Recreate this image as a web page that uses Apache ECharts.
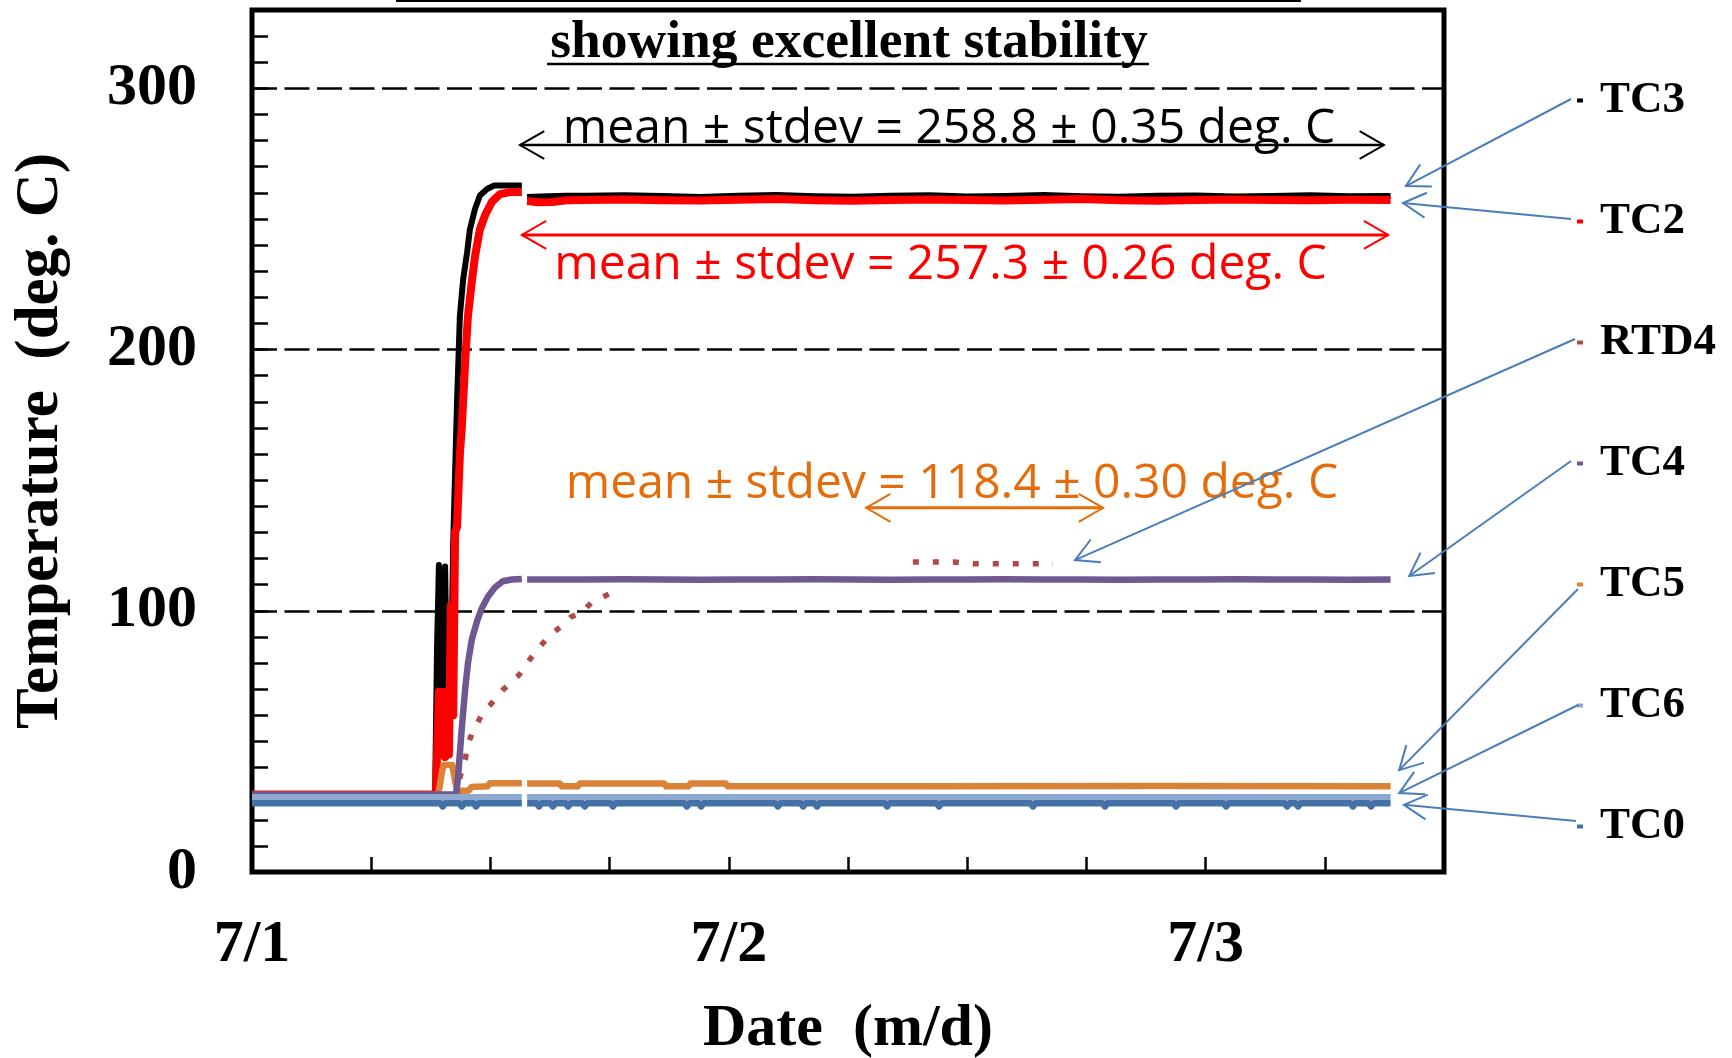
<!DOCTYPE html>
<html>
<head>
<meta charset="utf-8">
<script src="https://cdn.jsdelivr.net/npm/echarts@6/dist/echarts.min.js"></script>
<style>
  html, body { margin: 0; padding: 0; background: #ffffff; }
  #chart { width: 1732px; height: 1058px; }
</style>
</head>
<body>
<div id="chart"></div>
<script>
// ---- data (x in days after 7/1 00:00, y in deg. C) ----
const dateLabels = ['7/1', '7/2', '7/3'];
const seriesNames = ['TC3', 'TC2', 'RTD4', 'TC4', 'TC5', 'TC6', 'TC0'];

const steadyDays = [0.70, 0.78, 0.86, 0.94, 1.02, 1.10, 1.18, 1.26, 1.34, 1.42, 1.50,
                    1.58, 1.66, 1.74, 1.82, 1.90, 1.98, 2.06, 2.14, 2.22, 2.30, 2.388];

const tc3Rise = [[0, 29.7], [0.384, 29.7], [0.388, 85], [0.392, 117.5], [0.396, 117], [0.401, 45],
                 [0.405, 117], [0.409, 69], [0.413, 95], [0.417, 68], [0.422, 126], [0.430, 180],
                 [0.436, 213], [0.443, 227], [0.451, 237], [0.457, 246], [0.468, 254], [0.478, 259],
                 [0.493, 261.5], [0.508, 262.8], [0.566, 262.8], [0.571, null], [0.577, 258.4],
                 [0.620, 258.7], [0.660, 258.9]];
const tc3Steady = [258.9, 259.1, 258.8, 258.4, 258.9, 259.2, 258.7, 258.5, 258.9, 259.1, 258.6,
                   258.8, 259.2, 258.7, 258.5, 258.9, 259.0, 258.6, 258.8, 259.1, 258.7, 258.8];

const tc2Rise = [[0, 29.7], [0.384, 29.7], [0.386, 31], [0.388, 44], [0.392, 69], [0.396, 45],
                 [0.401, 69], [0.405, 44], [0.409, 69], [0.413, 45], [0.417, 102], [0.422, 60],
                 [0.426, 130], [0.430, 132], [0.436, 160], [0.440, 170], [0.447, 195], [0.453, 213],
                 [0.461, 226], [0.468, 236], [0.478, 246], [0.489, 251.5], [0.503, 256.5],
                 [0.520, 259.5], [0.541, 260.3], [0.566, 260.3], [0.571, null], [0.577, 256.9],
                 [0.600, 256.4], [0.630, 256.5], [0.660, 257.2]];
const tc2Steady = [257.3, 257.5, 257.2, 257.1, 257.4, 257.6, 257.2, 257.0, 257.3, 257.5, 257.3,
                   257.1, 257.4, 257.6, 257.2, 257.0, 257.3, 257.5, 257.3, 257.2, 257.4, 257.3];

const rtd4Points = [[0, 29.7], [0.428, 29.7], [0.436, 36], [0.443, 41], [0.447, 43], [0.453, 48.6],
                    [0.461, 53], [0.472, 56.7], [0.484, 60.9], [0.503, 64.7], [0.526, 69.7],
                    [0.545, 73], [0.560, 75.4], [0.589, 83], [0.623, 90.4], [0.650, 94.2],
                    [0.669, 97.6], [0.692, 99.5], [0.711, 103], [0.736, 105.3], [0.753, 106.8],
                    [0.760, null], [1.386, 118.7], [1.471, 118.7], [1.514, 118.0], [1.680, 118.0]];

const tc4Rise = [[0, 29.7], [0.428, 29.7], [0.432, 36], [0.440, 55], [0.447, 70], [0.453, 80],
                 [0.461, 89], [0.472, 96], [0.482, 101], [0.495, 105.5], [0.510, 109],
                 [0.526, 111.3], [0.545, 112.0], [0.566, 112.2], [0.571, null], [0.577, 112.0]];
const tc4Steady = [112.0, 112.1, 112.0, 111.9, 112.0, 112.0, 112.1, 112.0, 111.9, 112.0, 112.0,
                   112.1, 112.0, 112.0, 111.9, 112.0, 112.0, 112.1, 112.0, 112.0, 111.9, 112.0];

const tc5Points = [[0, 29.6], [0.390, 29.6], [0.394, 33], [0.398, 38], [0.402, 41], [0.420, 41],
                   [0.426, 35], [0.430, 31], [0.455, 31.2], [0.460, 32.5], [0.494, 32.8],
                   [0.499, 34.0], [0.566, 34.0], [0.571, null], [0.577, 33.9], [0.645, 33.9],
                   [0.650, 32.8], [0.683, 32.8], [0.688, 33.9], [0.864, 33.9], [0.869, 32.8],
                   [0.915, 32.8], [0.920, 33.9], [0.993, 33.9], [0.998, 32.8], [1.400, 32.8],
                   [1.900, 32.9], [2.388, 32.8]];

const tc6Points = [[0, 28.6], [0.300, 28.6], [0.566, 28.6], [0.571, null], [0.577, 28.6],
                   [1.200, 28.6], [1.800, 28.6], [2.388, 28.6]];

const tc0Points = [[0, 26.3], [0.395, 26.3], [0.400, 25.1], [0.405, 26.3], [0.435, 26.3],
                   [0.440, 25.1], [0.445, 26.3], [0.465, 26.3], [0.470, 25.1], [0.475, 26.3],
                   [0.566, 26.3], [0.571, null], [0.577, 26.3], [0.597, 26.3], [0.602, 25.1],
                   [0.607, 26.3], [0.626, 26.3], [0.631, 25.1], [0.636, 26.3], [0.658, 26.3],
                   [0.663, 25.1], [0.668, 26.3], [0.693, 26.3], [0.698, 25.1], [0.703, 26.3],
                   [0.752, 26.3], [0.757, 25.1], [0.762, 26.3], [0.907, 26.3], [0.912, 25.1],
                   [0.917, 26.3], [0.937, 26.3], [0.942, 25.1], [0.947, 26.3], [1.098, 26.3],
                   [1.103, 25.1], [1.108, 26.3], [1.151, 26.3], [1.156, 25.1], [1.161, 26.3],
                   [1.180, 26.3], [1.185, 25.1], [1.190, 26.3], [1.327, 26.3], [1.332, 25.1],
                   [1.337, 26.3], [1.436, 26.3], [1.441, 25.1], [1.446, 26.3], [1.633, 26.3],
                   [1.638, 25.1], [1.643, 26.3], [1.784, 26.3], [1.789, 25.1], [1.794, 26.3],
                   [1.933, 26.3], [1.938, 25.1], [1.943, 26.3], [2.038, 26.3], [2.043, 25.1],
                   [2.048, 26.3], [2.166, 26.3], [2.171, 25.1], [2.176, 26.3], [2.189, 26.3],
                   [2.194, 25.1], [2.199, 26.3], [2.304, 26.3], [2.309, 25.1], [2.314, 26.3],
                   [2.342, 26.3], [2.347, 25.1], [2.352, 26.3], [2.388, 26.3]];

// summary statistics printed on the chart
const stats = {
  tc3: { mean: 258.8, sd: '0.35' },
  tc2: { mean: 257.3, sd: '0.26' },
  rtd4: { mean: 118.4, sd: '0.30' }
};

// ---- styling ----
const colors = {
  TC3: '#000000', TC2: '#ff0000', RTD4: '#b04a46', TC4: '#6f5890',
  TC5: '#da8238', TC6: '#8ea9cf', TC0: '#4471a8',
  callout: '#4a7ebb', orangeText: '#e46c0a'
};
const serif = '"Liberation Serif", "Times New Roman", serif';
const sans = '"Open Sans", "Noto Sans", sans-serif';

function withSteady(rise, steady) {
  return rise.concat(steadyDays.map((d, i) => [d, steady[i]]));
}

function lineSeries(name, data, width, extra) {
  return Object.assign({
    name: name,
    type: 'line',
    data: data,
    showSymbol: false,
    symbol: 'none',
    connectNulls: false,
    silent: true,
    color: colors[name],
    itemStyle: { color: colors[name] },
    lineStyle: { color: colors[name], width: width, cap: 'butt', join: 'round' },
    z: 3
  }, extra || {});
}

const chart = echarts.init(document.getElementById('chart'), null, { renderer: 'canvas' });

chart.setOption({
  animation: false,
  backgroundColor: '#ffffff',
  grid: {
    left: 252, right: 288, top: 10, bottom: 186,
    show: true, borderColor: '#000000', borderWidth: 5,
    outerBoundsMode: 'none'
  },
  legend: {
    orient: 'vertical',
    left: 1572, top: 73,
    itemWidth: 6, itemHeight: 4, itemGap: 76,
    icon: 'rect',
    selectedMode: false,
    itemStyle: { borderWidth: 0 },
    textStyle: { fontFamily: serif, fontWeight: 'bold', fontSize: 45, color: '#000000',
                 padding: [0, 0, 0, 12] },
    data: seriesNames
  },
  xAxis: {
    type: 'value', min: 0, max: 2.5, interval: 0.25,
    name: 'Date  (m/d)', nameLocation: 'middle', nameGap: 127,
    nameTextStyle: { fontFamily: serif, fontWeight: 'bold', fontSize: 60, color: '#000000' },
    axisLine: { show: false },
    axisTick: { show: true, inside: true, length: 15, lineStyle: { color: '#000000', width: 2.5 } },
    axisLabel: {
      margin: 43, fontFamily: serif, fontWeight: 'bold', fontSize: 60, color: '#000000',
      formatter: v => (Math.abs(v - Math.round(v)) < 1e-9 ? dateLabels[Math.round(v)] || '' : '')
    },
    splitLine: { show: false }
  },
  yAxis: [{
    type: 'value', min: 0, max: 330, interval: 10,
    name: 'Temperature  (deg. C)', nameLocation: 'middle', nameGap: 180,
    nameTextStyle: { fontFamily: serif, fontWeight: 'bold', fontSize: 61, color: '#000000' },
    axisLine: { show: false },
    axisTick: { show: true, inside: true, length: 16, lineStyle: { color: '#000000', width: 2.5 } },
    axisLabel: {
      margin: 55, fontFamily: serif, fontWeight: 'bold', fontSize: 60, color: '#000000',
      formatter: v => (v % 100 === 0 ? String(v) : '')
    },
    splitLine: { show: false }
  }, {
    type: 'value', min: 0, max: 330, interval: 100, position: 'right',
    axisLine: { show: false }, axisTick: { show: false }, axisLabel: { show: false },
    splitLine: { show: true, lineStyle: { color: '#000000', width: 2.5, type: [25, 7.5] } }
  }],
  series: [
    lineSeries('TC3', withSteady(tc3Rise, tc3Steady), 6),
    lineSeries('TC2', withSteady(tc2Rise, tc2Steady), 8),
    lineSeries('TC5', tc5Points, 6.5),
    lineSeries('RTD4', rtd4Points, 5, {
      lineStyle: { color: colors.RTD4, width: 5.5, type: [6, 14], cap: 'butt' }
    }),
    lineSeries('TC4', withSteady(tc4Rise, tc4Steady), 6.5),
    lineSeries('TC6', tc6Points, 6.5),
    lineSeries('TC0', tc0Points, 6.5)
  ]
});

// ---- annotations ----
function toPx(d, t) {
  return chart.convertToPixel({ xAxisIndex: 0, yAxisIndex: 0 }, [d, t]);
}
function arrowHead(tip, from, len, ang) {
  const dx = from[0] - tip[0], dy = from[1] - tip[1];
  const n = Math.hypot(dx, dy), ux = dx / n, uy = dy / n;
  const c = Math.cos(ang), s = Math.sin(ang);
  return [
    [tip[0] + len * (ux * c - uy * s), tip[1] + len * (ux * s + uy * c)],
    tip,
    [tip[0] + len * (ux * c + uy * s), tip[1] + len * (-ux * s + uy * c)]
  ];
}
function poly(points, color, width) {
  return { type: 'polyline', silent: true, z: 10, shape: { points: points },
           style: { stroke: color, lineWidth: width, fill: null } };
}
function text(x, y, str, font, color, align) {
  return { type: 'text', silent: true, z: 10, x: x, y: y,
           style: { text: str, font: font, fill: color,
                    textAlign: align || 'left', align: align || 'left',
                    textVerticalAlign: 'middle', verticalAlign: 'middle' } };
}
function doubleArrow(d0, d1, t, color, width) {
  const a = toPx(d0, t), b = toPx(d1, t);
  return [poly([a, b], color, width),
          poly(arrowHead(a, b, 28, 0.52), color, 2),
          poly(arrowHead(b, a, 28, 0.52), color, 2)];
}
function meanText(key) {
  const s = stats[key];
  return 'mean \u00b1 stdev = ' + s.mean.toFixed(1) + ' \u00b1 ' + s.sd + ' deg. C';
}

// callouts from the legend entries to their curves: [legend-side start px, tip in data units]
const callouts = [
  { start: [1571, 99], tip: [2.420, 262.6] },
  { start: [1571, 219], tip: [2.414, 256.1] },
  { start: [1575, 339], tip: [1.726, 119.4] },
  { start: [1571, 461], tip: [2.427, 113.3] },
  { start: [1578, 589], tip: [2.406, 39.0] },
  { start: [1578, 705], tip: [2.406, 30.2] },
  { start: [1576, 821], tip: [2.416, 25.7] }
];

const elements = [];
const centerX = toPx(1.25, 0)[0];
const sansFont = '48px ' + sans;

// heading (its first line sits above the page edge; only its underline remains)
elements.push(poly([[396, 1], [1301, 1]], '#000000', 2));
elements.push(text(centerX + 1, 43, 'showing excellent stability', 'bold 53.5px ' + serif, '#000000', 'center'));
elements.push(poly([[centerX - 301, 64], [centerX + 301, 64]], '#000000', 2.5));

// mean ± stdev annotations
elements.push(...doubleArrow(0.562, 2.374, 278.3, '#000000', 2.5));
let p = toPx(0.652, 284.5);
elements.push(text(p[0], p[1], meanText('tc3'), sansFont, '#000000'));

elements.push(...doubleArrow(0.566, 2.383, 243.9, colors.TC2, 3));
p = toPx(0.634, 232.4);
elements.push(text(p[0], p[1], meanText('tc2'), sansFont, colors.TC2));

elements.push(...doubleArrow(1.288, 1.785, 139.4, colors.orangeText, 3));
p = toPx(0.658, 148.5);
elements.push(text(p[0], p[1], meanText('rtd4'), sansFont, colors.orangeText));

callouts.forEach(c => {
  const tip = toPx(c.tip[0], c.tip[1]);
  elements.push(poly([c.start, tip], colors.callout, 2));
  elements.push(poly(arrowHead(tip, c.start, 26, 0.5), colors.callout, 2));
});

chart.setOption({ graphic: { elements: elements } });
</script>
</body>
</html>
